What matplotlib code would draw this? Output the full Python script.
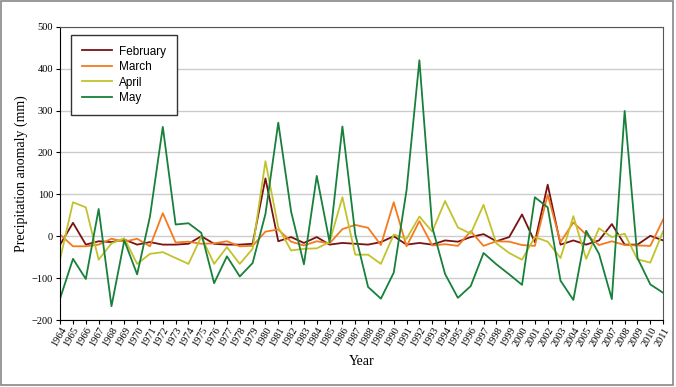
import numpy as np
import matplotlib
matplotlib.use('Agg')
from matplotlib import pyplot as plt
from matplotlib.patches import Rectangle

# Years and monthly precipitation anomalies (mm)
years = list(range(1964, 2012))

february = [-20, 32, -20, -12, -14, -8, -20, -14, -20, -20, -18, 0, -18, -20, -20, -18,
            138, -12, -2, -16, -2, -20, -16, -18, -20, -14, 0, -20, -16, -20, -10, -13,
            -2, 5, -12, -2, 52, -14, 123, -20, -10, -20, -10, 29, -20, -20, 1, -10]

march = [4, -24, -24, -20, -6, -13, -6, -24, 55, -15, -13, -18, -17, -12, -24, -23,
         11, 16, -13, -22, -12, -17, 17, 27, 20, -21, 81, -24, 36, -22, -19, -23,
         12, -23, -12, -13, -21, -23, 99, -14, 33, 4, -21, -12, -21, -22, -23, 40]

april = [-54, 81, 69, -56, -17, -5, -66, -42, -38, -52, -66, -1, -66, -26, -66, -30,
         179, 21, -34, -30, -29, -14, 93, -44, -44, -66, 4, -6, 47, 11, 84, 21,
         6, 75, -17, -40, -56, -2, -13, -52, 48, -54, 19, -2, 6, -55, -63, 12]

may = [-148, -54, -102, 65, -167, -10, -91, 47, 261, 28, 31, 8, -112, -48, -96, -64,
       53, 271, 59, -67, 144, -14, 262, 5, -121, -149, -87, 110, 420, 22, -90, -147,
       -119, -40, -67, -91, -116, 93, 69, -106, -152, 13, -42, -150, 299, -52, -115, -135]

serif = 'Liberation Serif'

fig = plt.figure(figsize=(6.76, 3.87), dpi=100)
ax = fig.add_axes([0.089, 0.173, 0.892, 0.758])

ax.plot(years, february, color='#7a1212', lw=1.3, label='February')
ax.plot(years, march, color='#f57a1f', lw=1.3, label='March')
ax.plot(years, april, color='#c2c22c', lw=1.3, label='April')
ax.plot(years, may, color='#17803a', lw=1.3, label='May')

ax.set_xlim(1964, 2011)
ax.set_ylim(-200, 500)
ax.set_yticks(np.arange(-200, 501, 100))
ax.set_xticks(years)
ax.set_xticklabels([str(y) for y in years], rotation=60, ha='right',
                   rotation_mode='anchor', fontsize=7.5, family=serif)
for t in ax.get_yticklabels():
    t.set_fontfamily(serif)
    t.set_fontsize(7.5)
ax.tick_params(axis='x', length=3, pad=1)
ax.tick_params(axis='y', length=3, pad=2)

ax.yaxis.grid(True, color='#cccccc', lw=1)
ax.set_axisbelow(True)
for s in ['top', 'right']:
    ax.spines[s].set_color('#555555')

ax.set_xlabel('Year', family=serif, fontsize=10, labelpad=5)
ax.set_ylabel('Precipitation anomaly (mm)', family=serif, fontsize=10, labelpad=3)

leg = ax.legend(loc='upper left', bbox_to_anchor=(0.018, 0.972), borderaxespad=0,
                fancybox=False, edgecolor='#333333', framealpha=1, handlelength=2.6,
                prop={'family': 'Liberation Sans', 'size': 8.5},
                borderpad=0.9, labelspacing=0.3, handletextpad=0.6)
leg.get_frame().set_linewidth(1.0)

# grey frame around the whole picture
fig.patches.append(Rectangle((0.001, 0.004), 0.994, 0.994, transform=fig.transFigure,
                             fill=False, edgecolor='#888888', lw=1.2))

plt.savefig('out.png')
